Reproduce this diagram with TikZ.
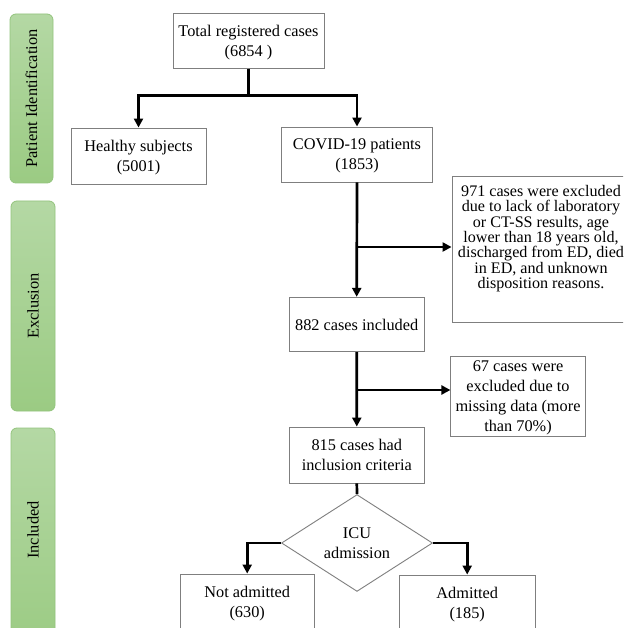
\documentclass[tikz,border=0pt]{standalone}
\usepackage{fontspec}
\setmainfont{Liberation Serif}
\usetikzlibrary{shapes.geometric,arrows.meta}
\definecolor{boxgray}{HTML}{7F7F7F}
\definecolor{gtop}{HTML}{B4D8A4}
\definecolor{gbot}{HTML}{9BCB83}
\definecolor{gedge}{HTML}{93C47D}
\newcommand\mytightlines{\lineskiplimit=-20pt\relax\lineskip=0pt\relax}
\tikzset{
  x=1pt,y=-1pt,
  box/.style={draw=boxgray,line width=0.9pt,fill=white,align=center,inner sep=0pt,
    font=\fontsize{16.3}{19.8}\selectfont,text depth=0pt},
  tightbox/.style={box,font=\fontsize{16.1}{15.3}\selectfont\mytightlines},
  phase/.style={draw=gedge,line width=0.8pt,rounded corners=6pt,top color=gtop,bottom color=gbot},
  phasetext/.style={rotate=90,font=\fontsize{16.4}{19}\selectfont,inner sep=0pt},
  conn/.style={line width=2.7pt,black},
  arr/.style={conn,-{Triangle[length=9pt,width=9pt]}},
  decision/.style={diamond,draw=boxgray,line width=0.9pt,fill=white,align=center,inner sep=0pt,
    minimum width=151pt,minimum height=73pt,font=\fontsize{16.3}{19.8}\selectfont},
}
\begin{document}
\begin{tikzpicture}
\useasboundingbox (0,0) rectangle (623,628);
\clip (0,0) rectangle (623,628);
\fill[white] (0,0) rectangle (623,628);
% phase bars
\draw[phase] (10,14) rectangle (53,183);
\draw[phase] (11,201) rectangle (55,411);
\draw[phase] (11,428) rectangle (55,650);
\node[phasetext] (p1) at (31.5,98.5) {Patient Identification};
\node[phasetext] (p2) at (33,306) {Exclusion};
\node[phasetext] (p3) at (33,530) {Included};
% nodes
\node[box,minimum width=151pt,minimum height=55pt] (total) at (248.5,40.8) {Total registered cases\\(6854 )};
\node[box,minimum width=135pt,minimum height=56pt] (healthy) at (138.5,156) {Healthy subjects\\(5001)};
\node[box,minimum width=150.6pt,minimum height=55pt] (covid) at (357,154.5) {COVID-19 patients\\(1853)};
\node[tightbox,minimum width=178pt,minimum height=146pt] (ex1) at (541,249) {971 cases were excluded\\due to lack of laboratory\\or CT-SS results, age\\lower than 18 years old,\\discharged from ED, died\\in ED, and unknown\\disposition reasons.\\[9pt]\mbox{}};
\node[box,minimum width=135.3pt,minimum height=54.4pt] (inc882) at (356.7,324.5) {882 cases included};
\node[box,minimum width=134.3pt,minimum height=80pt] (ex2) at (518,396) {67 cases were\\excluded due to\\missing data (more\\than 70\%)};
\node[box,minimum width=135pt,minimum height=56pt] (inc815) at (356.8,455) {815 cases had\\inclusion criteria};
\node[decision] (icu) at (357,543) {ICU\\admission};
\node[box,minimum width=134.3pt,minimum height=56pt] (notadm) at (247.2,602) {Not admitted\\(630)};
\node[box,minimum width=135.7pt,minimum height=56pt] (adm) at (467.2,603) {Admitted\\(185)};
% connectors
\draw[conn] (total.south) -- ++(0,26.5) coordinate (j1);
\draw[arr] (j1) -| (healthy.north);
\draw[arr] (j1) -| (covid.north);
\draw[arr] (covid.south) -- (inc882.north);
\coordinate (b1) at (357,247);
\draw[arr] (b1) -- (b1 -| ex1.west);
\draw[arr] (inc882.south) -- (inc815.north);
\coordinate (b2) at (357,390);
\draw[arr] (b2) -- (b2 -| ex2.west);
\draw[conn] (inc815.south) -- (icu.north);
\draw[arr] (icu.west) -| (notadm.north);
\draw[arr] (icu.east) -| (adm.north);
\end{tikzpicture}
\end{document}
